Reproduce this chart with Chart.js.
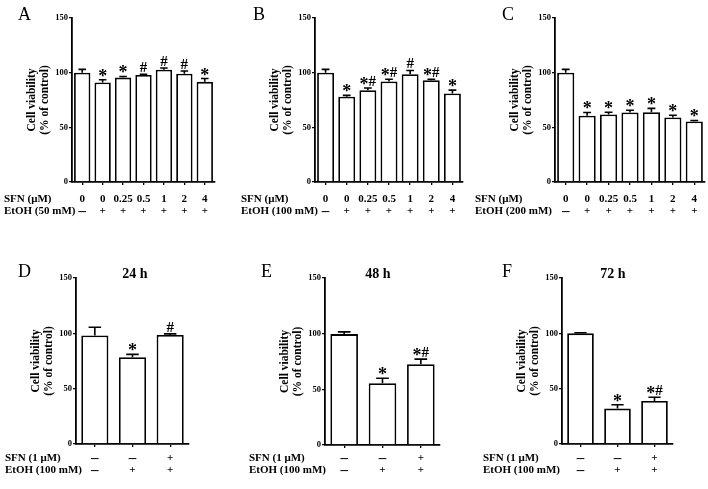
<!DOCTYPE html>
<html>
<head>
<meta charset="utf-8">
<script src="https://cdn.jsdelivr.net/npm/chart.js@4.4.1/dist/chart.umd.min.js"></script>
<style>
  html, body { margin: 0; padding: 0; background: #fff; }
  #fig { position: relative; width: 708px; height: 489px; overflow: hidden; background: #fff; }
  #fig canvas { position: absolute; left: 0; top: 0; }
</style>
</head>
<body>
<div id="fig"></div>
<script>
// Dose panels (A-C): SFN dose row and EtOH row
const doseLabels = ['0', '0', '0.25', '0.5', '1', '2', '4'];
const doseEtoh = ['–', '+', '+', '+', '+', '+', '+'];

const valuesA = [100, 91, 95.5, 97.8, 102.7, 99, 91.6];
const errorsA = [3, 2.5, 1, 0.8, 1.5, 2.5, 3];
const marksA = ['', '*', '*', '#', '#', '#', '*'];

const valuesB = [100, 78, 84, 92, 98.5, 93, 81];
const errorsB = [3, 1.2, 2, 2, 3.5, 1, 3];
const marksB = ['', '*', '*#', '*#', '#', '*#', '*'];

const valuesC = [100, 60.6, 61.8, 63.6, 63.8, 59, 55.3];
const errorsC = [3, 3, 2, 2, 3.5, 2, 1];
const marksC = ['', '*', '*', '*', '*', '*', '*'];

// Time panels (D-F)
const timeSfn = ['–', '–', '+'];
const timeEtoh = ['–', '+', '+'];

const valuesD = [98, 78.5, 98.5];
const errorsD = [7.5, 2.5, 1];
const marksD = ['', '*', '#'];

const valuesE = [99.6, 55.5, 72.6];
const errorsE = [2, 4.5, 4.5];
const marksE = ['', '*', '*#'];

const valuesF = [100, 32, 38.8];
const errorsF = [0.5, 3.5, 3.5];
const marksF = ['', '*', '*#'];

const yTicks = [0, 50, 100, 150];

const serif = '"Liberation Serif", "Times New Roman", serif';
const W = 708, H = 489;
const Y_AXIS_W = 20, X_AXIS_H = 4;

const panels = [
  { letter: 'A', letterX: 18, letterY: 15, area: [72, 18, 215, 182], barPct: 0.8,
    labels: doseLabels, rows: [['SFN (μM)', doseLabels], ['EtOH (50 mM)', doseEtoh]],
    rowX: 4, rowY: [199, 211], values: valuesA, errors: errorsA, marks: marksA },
  { letter: 'B', letterX: 253, letterY: 15, area: [315, 18, 463, 182], barPct: 0.8,
    labels: doseLabels, rows: [['SFN (μM)', doseLabels], ['EtOH (100 mM)', doseEtoh]],
    rowX: 241, rowY: [199, 211], values: valuesB, errors: errorsB, marks: marksB },
  { letter: 'C', letterX: 502, letterY: 15, area: [555, 18, 705, 182], barPct: 0.8,
    labels: doseLabels, rows: [['SFN (μM)', doseLabels], ['EtOH (200 mM)', doseEtoh]],
    rowX: 475, rowY: [199, 211], values: valuesC, errors: errorsC, marks: marksC },
  { letter: 'D', letterX: 18, letterY: 272, area: [76, 278, 189, 444], barPct: 0.72, title: '24 h', titleX: 135,
    labels: timeSfn, rows: [['SFN (1 μM)', timeSfn], ['EtOH (100 mM)', timeEtoh]],
    rowX: 5, rowY: [458, 470], values: valuesD, errors: errorsD, marks: marksD },
  { letter: 'E', letterX: 261, letterY: 272, area: [325, 278, 440, 445], barPct: 0.72, title: '48 h', titleX: 378,
    labels: timeSfn, rows: [['SFN (1 μM)', timeSfn], ['EtOH (100 mM)', timeEtoh]],
    rowX: 249, rowY: [458, 470], values: valuesE, errors: errorsE, marks: marksE },
  { letter: 'F', letterX: 502, letterY: 272, area: [562, 278, 673, 444], barPct: 0.72, title: '72 h', titleX: 613,
    labels: timeSfn, rows: [['SFN (1 μM)', timeSfn], ['EtOH (100 mM)', timeEtoh]],
    rowX: 483, rowY: [458, 470], values: valuesF, errors: errorsF, marks: marksF }
];

const starFont = 'bold 18px ' + serif;
const hashFont = 'bold 15px ' + serif;
const rowFont = 'bold 11px ' + serif;
const dashFont = 'bold 15px ' + serif;

// draw "*", "#" or "*#" centred above the error cap
function drawMark(ctx, mark, x, yTop) {
  const parts = mark.split('');
  const widths = parts.map(c => {
    ctx.font = c === '*' ? starFont : hashFont;
    return ctx.measureText(c).width;
  });
  let cx = x - widths.reduce((a, b) => a + b, 0) / 2;
  ctx.textAlign = 'left';
  ctx.textBaseline = 'alphabetic';
  parts.forEach((c, k) => {
    ctx.font = c === '*' ? starFont : hashFont;
    ctx.fillText(c, cx, c === '*' ? yTop + 2 : yTop - 2);
    cx += widths[k];
  });
}

// Error bars, significance marks, category rows, titles
const panelDecor = {
  id: 'panelDecor',
  afterDatasetsDraw(chart, args, opts) {
    const p = opts.panel;
    const ctx = chart.ctx;
    const y = chart.scales.y;
    const area = chart.chartArea;
    const meta = chart.getDatasetMeta(0);
    ctx.save();
    ctx.strokeStyle = '#000';
    ctx.fillStyle = '#000';
    ctx.lineWidth = 1.6;

    meta.data.forEach((bar, i) => {
      const yBar = y.getPixelForValue(p.values[i]);
      const yTop = y.getPixelForValue(p.values[i] + p.errors[i]);
      const cap = bar.width * 0.23;
      ctx.beginPath();
      ctx.moveTo(bar.x, yBar);
      ctx.lineTo(bar.x, yTop);
      ctx.moveTo(bar.x - cap, yTop);
      ctx.lineTo(bar.x + cap, yTop);
      ctx.stroke();

      if (p.marks[i]) drawMark(ctx, p.marks[i], bar.x, yTop);

      ctx.textAlign = 'center';
      ctx.textBaseline = 'middle';
      p.rows.forEach((row, r) => {
        const cell = row[1][i];
        ctx.font = cell === '–' ? dashFont : rowFont;
        ctx.fillText(cell, bar.x, p.rowY[r]);
      });
    });

    // row names
    ctx.font = rowFont;
    ctx.textAlign = 'left';
    ctx.textBaseline = 'middle';
    p.rows.forEach((row, r) => ctx.fillText(row[0], p.rowX, p.rowY[r]));

    // y title, two rotated lines
    const midY = (area.top + area.bottom) / 2;
    ctx.font = 'bold 11.5px ' + serif;
    ctx.textAlign = 'center';
    [['Cell viability', 40], ['(% of control)', 27]].forEach(([txt, off]) => {
      ctx.save();
      ctx.translate(area.left - off, midY);
      ctx.rotate(-Math.PI / 2);
      ctx.fillText(txt, 0, 0);
      ctx.restore();
    });

    // panel letter
    ctx.font = '18px ' + serif;
    ctx.textAlign = 'left';
    ctx.textBaseline = 'middle';
    ctx.fillText(p.letter, p.letterX, p.letterY);

    if (p.title) {
      ctx.font = 'bold 14px ' + serif;
      ctx.textAlign = 'center';
      ctx.fillText(p.title, p.titleX, 274);
    }
    ctx.restore();
  }
};

const fig = document.getElementById('fig');

panels.forEach(p => {
  const canvas = document.createElement('canvas');
  canvas.width = W;
  canvas.height = H;
  canvas.style.width = W + 'px';
  canvas.style.height = H + 'px';
  fig.appendChild(canvas);

  const [L, T, R, B] = p.area;

  new Chart(canvas, {
    type: 'bar',
    data: {
      labels: p.labels.map((l, i) => i + ''),
      datasets: [{
        data: p.values,
        backgroundColor: '#fff',
        borderColor: '#000',
        borderWidth: 1.8,
        categoryPercentage: 1,
        barPercentage: p.barPct
      }]
    },
    options: {
      responsive: false,
      animation: false,
      layout: {
        padding: { left: L - Y_AXIS_W, top: T, right: W - R, bottom: H - B - X_AXIS_H }
      },
      plugins: {
        legend: { display: false },
        tooltip: { enabled: false },
        panelDecor: { panel: p }
      },
      scales: {
        x: {
          ticks: { display: false },
          grid: { offset: false, drawOnChartArea: false, color: '#000', lineWidth: 1.3, tickLength: 3 },
          border: { color: '#000', width: 1.8 },
          afterFit: s => { s.height = X_AXIS_H; }
        },
        y: {
          min: 0,
          max: 150,
          afterBuildTicks: s => { s.ticks = yTicks.map(v => ({ value: v })); },
          ticks: { color: '#000', padding: 1, font: { family: serif, size: 8.5, weight: 'bold' } },
          grid: { drawOnChartArea: false, color: '#000', lineWidth: 1.3, tickLength: 3 },
          border: { color: '#000', width: 1.8 },
          afterFit: s => { s.width = Y_AXIS_W; }
        }
      }
    },
    plugins: [panelDecor]
  });
});
</script>
</body>
</html>
